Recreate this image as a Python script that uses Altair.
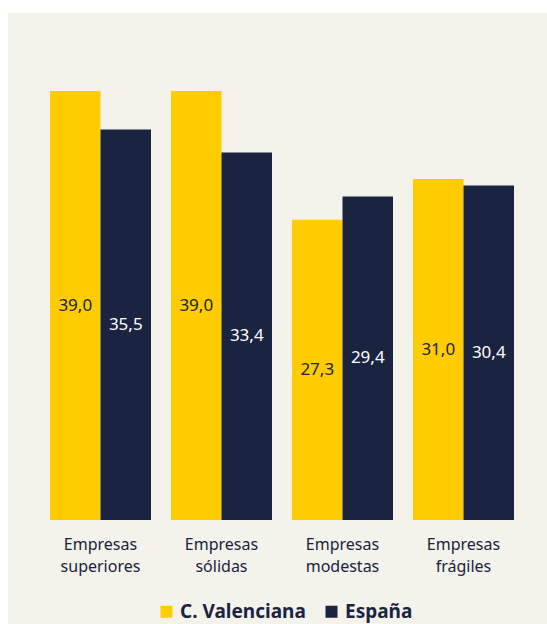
import altair as alt
import pandas as pd

categories = ["Empresas superiores", "Empresas sólidas", "Empresas modestas", "Empresas frágiles"]
series = ["C. Valenciana", "España"]
valenciana = [39.0, 39.0, 27.3, 31.0]
espana = [35.5, 33.4, 29.4, 30.4]

rows = []
for c, v, e in zip(categories, valenciana, espana):
    rows.append({"cat": c, "serie": series[0], "valor": v})
    rows.append({"cat": c, "serie": series[1], "valor": e})
df = pd.DataFrame(rows)

YELLOW = "#FFCC00"
NAVY = "#1A2340"
BG = "#F3F2EB"
FONT = "Noto Sans"

x_enc = alt.X("cat:N", sort=categories,
              scale=alt.Scale(paddingInner=20 / 121, paddingOuter=10 / 121),
              axis=alt.Axis(title=None, domain=False, ticks=False, grid=False,
                            labelAngle=0, labelFontSize=16, labelColor=NAVY,
                            labelFont=FONT, labelPadding=16, labelLineHeight=22,
                            labelExpr="split(datum.label, ' ')"))
xo_enc = alt.XOffset("serie:N", sort=series, scale=alt.Scale(paddingInner=0))

base = alt.Chart(df)

bars = base.mark_bar().encode(
    x=x_enc,
    xOffset=xo_enc,
    y=alt.Y("valor:Q", scale=alt.Scale(domain=[0, 39], nice=False), axis=None),
    color=alt.Color("serie:N", sort=series,
                    scale=alt.Scale(domain=series, range=[YELLOW, NAVY]),
                    legend=alt.Legend(title=None, orient="none", direction="horizontal",
                                      legendX=117, legendY=511,
                                      symbolType="square", symbolSize=144,
                                      symbolStrokeWidth=0, symbolOpacity=1,
                                      labelFont=FONT, labelFontSize=19,
                                      labelFontWeight="bold", labelColor=NAVY,
                                      columnPadding=16, labelOffset=4)),
)

labels = base.transform_calculate(
    mid="datum.valor / 2",
    txt="replace(format(datum.valor, '.1f'), '.', ',')",
).mark_text(font=FONT, fontSize=17, baseline="middle", align="center").encode(
    x=x_enc,
    xOffset=xo_enc,
    y=alt.Y("mid:Q", scale=alt.Scale(domain=[0, 39], nice=False), axis=None),
    text="txt:N",
    color=alt.condition("datum.serie == 'España'", alt.value("white"), alt.value(NAVY)),
)

frame = alt.Chart(pd.DataFrame({"a": [0]}))
left_strip = frame.mark_rect(color="white").encode(
    x=alt.value(-40), x2=alt.value(-32), y=alt.value(-91), y2=alt.value(533))
top_strip = frame.mark_rect(color="white").encode(
    x=alt.value(-40), x2=alt.value(507), y=alt.value(-91), y2=alt.value(-78))

chart = alt.layer(bars, labels, left_strip, top_strip).properties(
    width=484, height=429,
    padding={"left": 40, "top": 91, "right": 23, "bottom": 104},
    autosize=alt.AutoSizeParams(type="none"),
    background=BG,
).configure_view(stroke=None)

chart.save("out.html", embed_options={"renderer": "svg", "actions": False})
